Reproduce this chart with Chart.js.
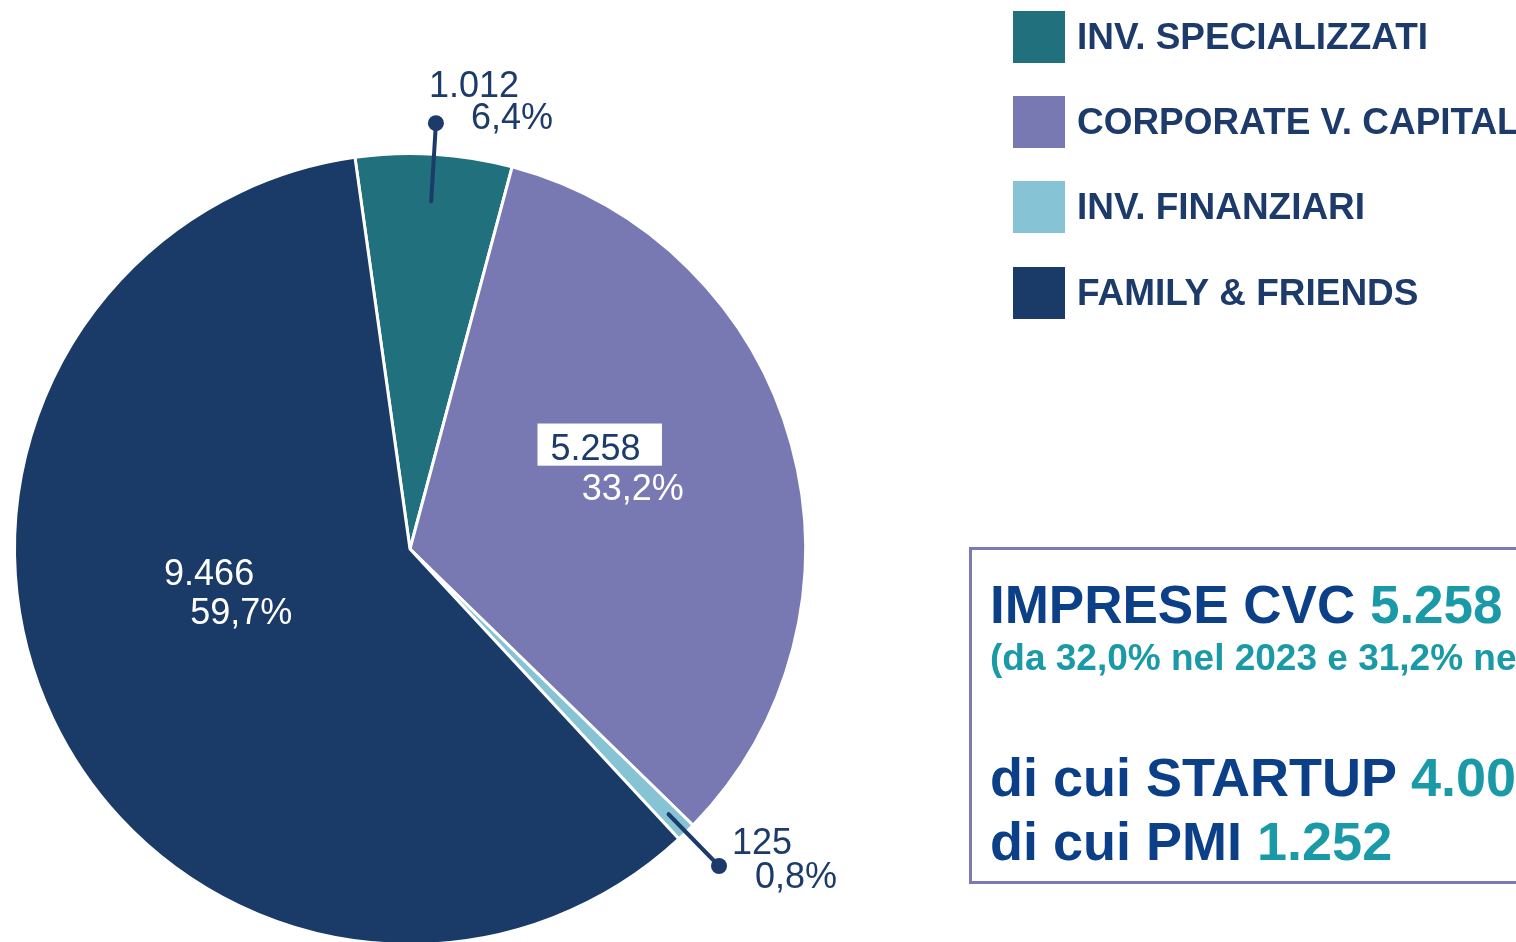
<!DOCTYPE html>
<html>
<head>
<meta charset="utf-8">
<script src="https://cdn.jsdelivr.net/npm/chart.js@4/dist/chart.umd.min.js"></script>
<style>
  html, body { margin: 0; padding: 0; background: #ffffff; overflow: hidden; width: 1516px; height: 942px; }
  #wrap { position: absolute; left: 0; top: 0; width: 1516px; height: 1000px; }
  #box { position: absolute; left: 969px; top: 547px; width: 640px; height: 331px; border: 3px solid #7b7ab5; box-sizing: content-box; }
  .t { position: absolute; left: 990px; white-space: nowrap; font-family: "Liberation Sans", Arial, sans-serif; font-weight: bold; line-height: 1; }
  .navy { color: #0b3f87; }
  .teal { color: #1a9aa6; }
</style>
</head>
<body>
<div id="wrap"><canvas id="c" width="1516" height="1000"></canvas></div>
<div id="box"></div>
<div class="t navy" style="top:578px;font-size:53px;">IMPRESE CVC <span class="teal">5.258</span></div>
<div class="t teal" style="top:639px;font-size:37px;">(da 32,0% nel 2023 e 31,2% nel 2022)</div>
<div class="t navy" style="top:750px;font-size:54px;">di cui STARTUP <span class="teal">4.006</span></div>
<div class="t navy" style="top:814px;font-size:54px;">di cui PMI <span class="teal">1.252</span></div>
<script>
const categories = ['INV. SPECIALIZZATI', 'CORPORATE V. CAPITAL', 'INV. FINANZIARI', 'FAMILY & FRIENDS'];
const values = [1012, 5258, 125, 9466];
const valueLabels = ['1.012', '5.258', '125', '9.466'];
const percentLabels = ['6,4%', '33,2%', '0,8%', '59,7%'];
const colors = ['#21707d', '#7878b2', '#86c3d4', '#1a3a67'];

const NAVY_TEXT = '#1c3b6a';
const FONT = '"Liberation Sans", Arial, sans-serif';

const labelPlugin = {
  id: 'sliceLabels',
  afterDatasetsDraw(chart) {
    const ctx = chart.ctx;
    const arcs = chart.getDatasetMeta(0).data;
    ctx.save();
    ctx.font = '36px ' + FONT;
    ctx.textBaseline = 'alphabetic';
    ctx.textAlign = 'left';
    arcs.forEach((arc, i) => {
      const {x, y, startAngle, endAngle, outerRadius} = arc.getProps(['x', 'y', 'startAngle', 'endAngle', 'outerRadius']);
      const k = outerRadius / 394;
      const mid = (startAngle + endAngle) / 2;
      if (i === 0 || i === 2) {
        const r0 = i === 0 ? 347 * k : 369 * k;
        const r1 = i === 0 ? 425 * k : 441 * k;
        const p0 = {x: x + Math.cos(mid) * r0, y: y + Math.sin(mid) * r0};
        const p1 = {x: x + Math.cos(mid) * r1, y: y + Math.sin(mid) * r1};
        ctx.strokeStyle = NAVY_TEXT;
        ctx.lineWidth = 4;
        ctx.lineCap = 'round';
        ctx.beginPath(); ctx.moveTo(p0.x, p0.y); ctx.lineTo(p1.x, p1.y); ctx.stroke();
        ctx.fillStyle = NAVY_TEXT;
        ctx.beginPath(); ctx.arc(p1.x, p1.y, 8, 0, Math.PI * 2); ctx.fill();
        if (i === 0) {
          ctx.fillText(valueLabels[i], p1.x - 7, p1.y - 26);
          ctx.fillText(percentLabels[i], p1.x + 35, p1.y + 6);
        } else {
          ctx.fillText(valueLabels[i], p1.x + 13, p1.y - 12);
          ctx.fillText(percentLabels[i], p1.x + 36, p1.y + 22);
        }
      } else if (i === 1) {
        ctx.fillStyle = '#ffffff';
        ctx.fillRect(x + 127 * k, y - 125 * k, 124 * k, 42 * k);
        ctx.fillStyle = NAVY_TEXT;
        ctx.fillText(valueLabels[i], x + 140 * k, y - 89 * k);
        ctx.fillStyle = '#ffffff';
        ctx.fillText(percentLabels[i], x + 171 * k, y - 49 * k);
      } else {
        ctx.fillStyle = '#ffffff';
        ctx.fillText(valueLabels[i], x - 245 * k, y + 36 * k);
        ctx.fillText(percentLabels[i], x - 219 * k, y + 75 * k);
      }
    });
    ctx.restore();
  }
};

const legendPlugin = {
  id: 'sideLegend',
  afterDraw(chart) {
    const ctx = chart.ctx;
    ctx.save();
    ctx.font = 'bold 36px ' + FONT;
    const sx = 351 / ctx.measureText(categories[0]).width;
    const tops = [11, 96, 181, 267];
    categories.forEach((name, i) => {
      const top = tops[i];
      ctx.fillStyle = colors[i];
      ctx.fillRect(1013, top, 52, 52);
      ctx.fillStyle = NAVY_TEXT;
      ctx.save();
      ctx.translate(1077, top + 38);
      ctx.scale(sx, 1);
      ctx.textBaseline = 'alphabetic';
      ctx.fillText(name, 0, 0);
      ctx.restore();
    });
    ctx.restore();
  }
};

new Chart(document.getElementById('c'), {
  type: 'pie',
  data: {
    labels: categories,
    datasets: [{
      data: values,
      backgroundColor: colors,
      borderColor: '#ffffff',
      borderWidth: 3
    }]
  },
  options: {
    responsive: false,
    animation: false,
    rotation: -8,
    layout: { padding: { left: 13, right: 709, top: 152, bottom: 54 } },
    plugins: { legend: { display: false }, tooltip: { enabled: false } }
  },
  plugins: [labelPlugin, legendPlugin]
});
</script>
</body>
</html>
